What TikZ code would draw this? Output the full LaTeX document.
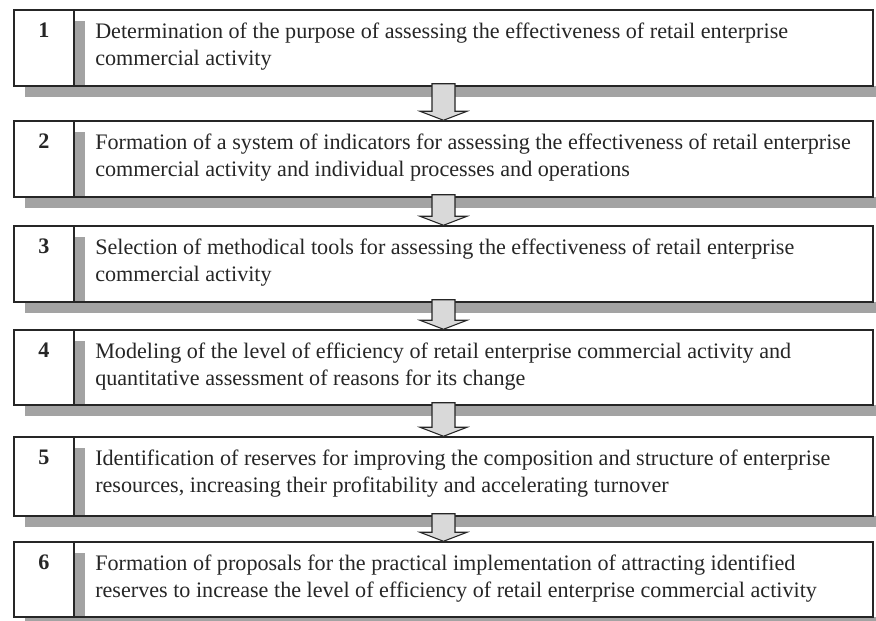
\documentclass[tikz,border=0pt]{standalone}
\usepackage{fontspec}
\setmainfont{Liberation Serif}
\usetikzlibrary{calc,fit}
\definecolor{ink}{HTML}{262626}
\definecolor{hatch}{HTML}{A3A3A3}
\definecolor{shaftfill}{HTML}{D9D9D9}
\begin{document}
\begin{tikzpicture}[x=0.75pt,y=-0.75pt,
  frame/.style={draw=ink, line width=1.1pt, inner sep=0pt},
  hatchfill/.style={fill=hatch},
  txt/.style={anchor=north west, align=left, inner sep=0pt, text=ink,
    font=\fontsize{16.6}{20}\selectfont},
  num/.style={anchor=north, inner sep=0pt, text=ink,
    font=\fontsize{16.6}{20}\selectfont\bfseries},
  flow/.style={draw=ink, line width=0.8pt, fill=shaftfill, line join=miter}
]
\useasboundingbox (0,0) rectangle (876,621);
\fill[white] (0,0) rectangle (876,621);

% one stage: #1 name, #2 top, #3 bottom, #4 number, #5 text
\newcommand{\stagerow}[5]{%
  \fill[hatchfill] (25,#3) rectangle (876,#3+11);
  \fill[hatchfill] (75,#2+11) rectangle (85,#3);
  \coordinate (#1a) at (14,#2);
  \coordinate (#1b) at (873,#3);
  \node[frame, draw, fit=(#1a)(#1b)] (#1) {};
  \draw[frame] (74,#2) -- (74,#3);
  \node[num] (#1n) at (44,#2+13) {#4};
  \node[txt] (#1t) at (95,#2+13) {#5};
}

\stagerow{s1}{10}{86}{1}{Determination of the purpose of assessing the effectiveness of retail enterprise\\commercial activity}
\stagerow{s2}{121}{197}{2}{Formation of a system of indicators for assessing the effectiveness of retail enterprise\\commercial activity and individual processes and operations}
\stagerow{s3}{226}{302}{3}{Selection of methodical tools for assessing the effectiveness of retail enterprise\\commercial activity}
\stagerow{s4}{330}{405}{4}{Modeling of the level of efficiency of retail enterprise commercial activity and\\quantitative assessment of reasons for its change}
\stagerow{s5}{437}{516}{5}{Identification of reserves for improving the composition and structure of enterprise\\resources, increasing their profitability and accelerating turnover}
\stagerow{s6}{542}{617}{6}{Formation of proposals for the practical implementation of attracting identified\\reserves to increase the level of efficiency of retail enterprise commercial activity}

% block arrows between consecutive stages
\newcommand{\stepflow}[2]{%
  \draw[flow] ($(#1.south)+(-11.5,-3)$) -- ($(#2.north)+(-11.5,-9)$)
    -- ($(#2.north)+(-23.5,-9)$) -- (#2.north) -- ($(#2.north)+(23.5,-9)$)
    -- ($(#2.north)+(11.5,-9)$) -- ($(#1.south)+(11.5,-3)$) -- cycle;
}
\stepflow{s1}{s2}
\stepflow{s2}{s3}
\stepflow{s3}{s4}
\stepflow{s4}{s5}
\stepflow{s5}{s6}
\end{tikzpicture}
\end{document}
